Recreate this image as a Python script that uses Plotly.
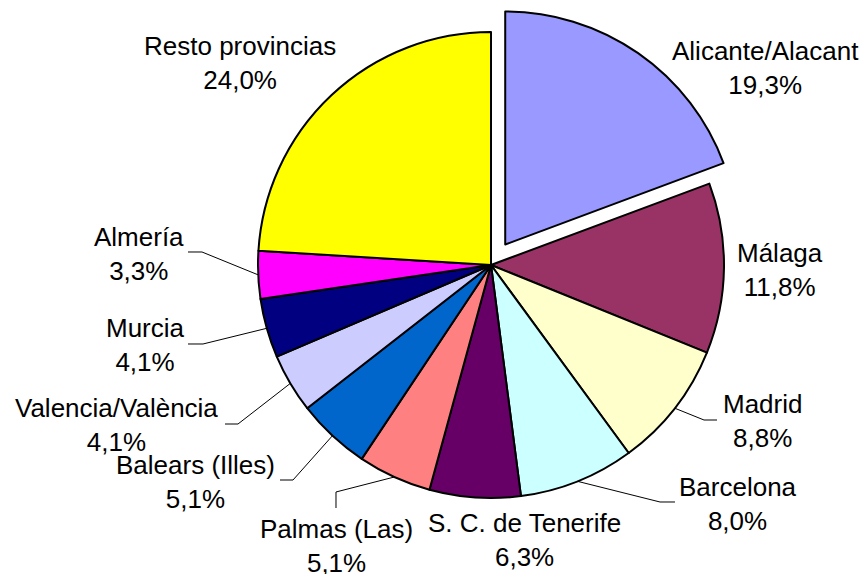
import math
import plotly.graph_objects as go

# ---- data ----
provinces = ["Alicante/Alacant", "Málaga", "Madrid", "Barcelona", "S. C. de Tenerife",
             "Palmas (Las)", "Balears (Illes)", "Valencia/València", "Murcia", "Almería",
             "Resto provincias"]
shares = [19.3, 11.8, 8.8, 8.0, 6.3, 5.1, 5.1, 4.1, 4.1, 3.3, 24.0]

# ---- styling / layout ----
colors = ["#9999FF", "#993366", "#FFFFCC", "#CCFFFF", "#660066", "#FF8080",
          "#0066CC", "#CCCCFF", "#000080", "#FF00FF", "#FFFF00"]
pulls = [0.107, 0, 0, 0, 0, 0, 0, 0, 0, 0, 0]

W, H = 862, 574
CX, CY, R = 491, 265, 233
box = 2 * R * (1 + max(pulls))

# label centres (pixels) and leader-line elbows (pixels, None = no leader)
label_pos = [(765, 68), (780, 270), (762, 421), (738, 504), (524, 540),
             (336, 546), (195, 482), (116, 425), (145, 345), (139, 254), (240, 63)]
leader_pts = [None, None,
              [(717, 420), (704, 420)],
              [(675, 502), (660, 502)],
              None,
              [(336, 508), (336, 492)],
              [(280, 480), (293, 480)],
              [(225, 424), (238, 424)],
              [(188, 344), (203, 344)],
              [(188, 252), (202, 252)],
              None]

FONT = "Arial, Liberation Sans, sans-serif"

fig = go.Figure(go.Pie(
    labels=provinces,
    values=shares,
    sort=False,
    direction="clockwise",
    rotation=0,
    pull=pulls,
    marker=dict(colors=colors, line=dict(color="black", width=2)),
    textinfo="none",
    hoverinfo="label+value",
    domain=dict(x=[(CX - box / 2) / W, (CX + box / 2) / W],
                y=[1 - (CY + box / 2) / H, 1 - (CY - box / 2) / H]),
    showlegend=False,
))

def px2paper(x, y):
    return x / W, 1 - y / H

total = sum(shares)
cum = 0.0
annotations = []
shapes = []
for name, v, (lx, ly), lead in zip(provinces, shares, label_pos, leader_pts):
    mid = (cum + v / 2) / total
    cum += v
    pct = f"{v:.1f}%".replace(".", ",")
    txt = f"{name}<br>{pct}"
    ax, ay = px2paper(lx, ly)
    annotations.append(dict(x=ax, y=ay, xref="paper", yref="paper", text=txt,
                            showarrow=False, xanchor="center", yanchor="middle",
                            align="center",
                            font=dict(family=FONT, size=26, color="black")))
    if lead:
        ang = math.radians(90 - mid * 360)
        ex, ey = CX + R * math.cos(ang), CY - R * math.sin(ang)
        pts = [lead[0], lead[1], (ex, ey)]
        path = "M " + " L ".join(f"{px2paper(x, y)[0]:.5f},{px2paper(x, y)[1]:.5f}" for x, y in pts)
        shapes.append(dict(type="path", path=path, xref="paper", yref="paper",
                           line=dict(color="black", width=1)))

fig.update_layout(
    width=W, height=H,
    margin=dict(l=0, r=0, t=0, b=0),
    paper_bgcolor="white", plot_bgcolor="white",
    annotations=annotations,
    shapes=shapes,
)

fig.write_html("out.html", config={"displayModeBar": False},
               post_script="document.body.style.margin='0';")
